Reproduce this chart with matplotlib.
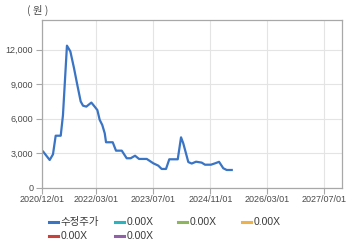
import numpy as np
import pandas as pd
import matplotlib

matplotlib.use("Agg")
import matplotlib.pyplot as plt
import matplotlib.dates as mdates
from matplotlib.lines import Line2D
from matplotlib.ticker import FuncFormatter

plt.rcParams["font.family"] = ["Liberation Sans", "Noto Sans CJK KR", "DejaVu Sans"]

dates = [
    "2020-12-09", "2021-02-02", "2021-03-02", "2021-03-25", "2021-05-07",
    "2021-05-26", "2021-06-29", "2021-07-28", "2021-08-28", "2021-09-25",
    "2021-10-24", "2021-11-13", "2021-12-11", "2022-01-23", "2022-02-20",
    "2022-03-15", "2022-04-04", "2022-04-26", "2022-05-17", "2022-05-28",
    "2022-07-24", "2022-08-21", "2022-10-09", "2022-11-20", "2022-12-24",
    "2023-01-30", "2023-03-05", "2023-05-10", "2023-07-05", "2023-08-16",
    "2023-09-14", "2023-10-21", "2023-11-18", "2024-01-29", "2024-02-26",
    "2024-03-16", "2024-04-08", "2024-04-28", "2024-05-27", "2024-07-03",
    "2024-08-20", "2024-09-17", "2024-11-07", "2024-12-12", "2025-01-15",
    "2025-02-20", "2025-03-21", "2025-05-03",
]
price = [
    3130, 2410, 2900, 4520, 4520,
    6300, 12350, 11850, 10400, 8950,
    7500, 7130, 7050, 7400, 7050,
    6750, 5900, 5450, 4730, 3950,
    3950, 3220, 3220, 2560, 2560,
    2780, 2500, 2500, 2120, 1920,
    1630, 1630, 2470, 2470, 4380,
    3860, 2990, 2230, 2100, 2260,
    2180, 2000, 2000, 2120, 2250,
    1690, 1540, 1540,
]

tick_dates = ["2020-12-01", "2022-03-01", "2023-07-01", "2024-11-01", "2026-03-01", "2027-07-01"]
yticks = [0, 3000, 6000, 9000, 12000]

legend_labels = ["수정주가", "0.00X", "0.00X", "0.00X", "0.00X", "0.00X"]
legend_colors = ["#3a74c4", "#2bb3c0", "#8db65a", "#eeb24a", "#c8413a", "#9160a8"]

W, H = 360, 248
fig = plt.figure(figsize=(W / 100, H / 100), dpi=100, facecolor="white")
ax = fig.add_axes([42.3 / W, 1 - 187.7 / H, 300 / W, 167.7 / H])

x = pd.to_datetime(dates)
ax.plot(x, price, color=legend_colors[0], lw=1.6, solid_joinstyle="round")

ax.set_xlim(pd.Timestamp("2020-12-01"), pd.Timestamp("2027-12-01"))
ax.set_ylim(0, 14580)
ax.set_xticks(pd.to_datetime(tick_dates))
ax.xaxis.set_major_formatter(mdates.DateFormatter("%Y/%m/%d"))
ax.set_yticks(yticks)
ax.yaxis.set_major_formatter(FuncFormatter(lambda v, p: f"{int(v):,}"))

ax.grid(color="#e4e4e4", lw=0.8)
ax.set_axisbelow(True)
for spine in ax.spines.values():
    spine.set_color("#a8a8a8")
    spine.set_linewidth(0.9)
ax.tick_params(colors="#a8a8a8", labelcolor="#4a4a4a", labelsize=6.5, length=4, width=0.8)
ax.tick_params(axis="x", pad=1.5)
ax.tick_params(axis="y", pad=2.5)

fig.text(37.5 / W, 1 - 10 / H, "( 원 )", ha="center", va="center", fontsize=7.5,
         color="#4a4a4a", family=["Noto Sans CJK KR", "DejaVu Sans"])

# legend laid out like the html one
col_x = [49, 115, 178, 242]
row_y = [222, 236]
slots = [(0, 0), (1, 0), (2, 0), (3, 0), (0, 1), (1, 1)]
for (c, r), lab, col in zip(slots, legend_labels, legend_colors):
    x0 = col_x[c]
    y0 = 1 - row_y[r] / H
    fig.add_artist(Line2D([x0 / W, (x0 + 9) / W], [y0, y0], color=col, lw=2.2,
                          transform=fig.transFigure))
    fig.text((x0 + 11.5) / W, y0, lab, ha="left", va="center", fontsize=7.5, color="#3a3a3a")

fig.savefig("out.png", dpi=100, facecolor="white")
